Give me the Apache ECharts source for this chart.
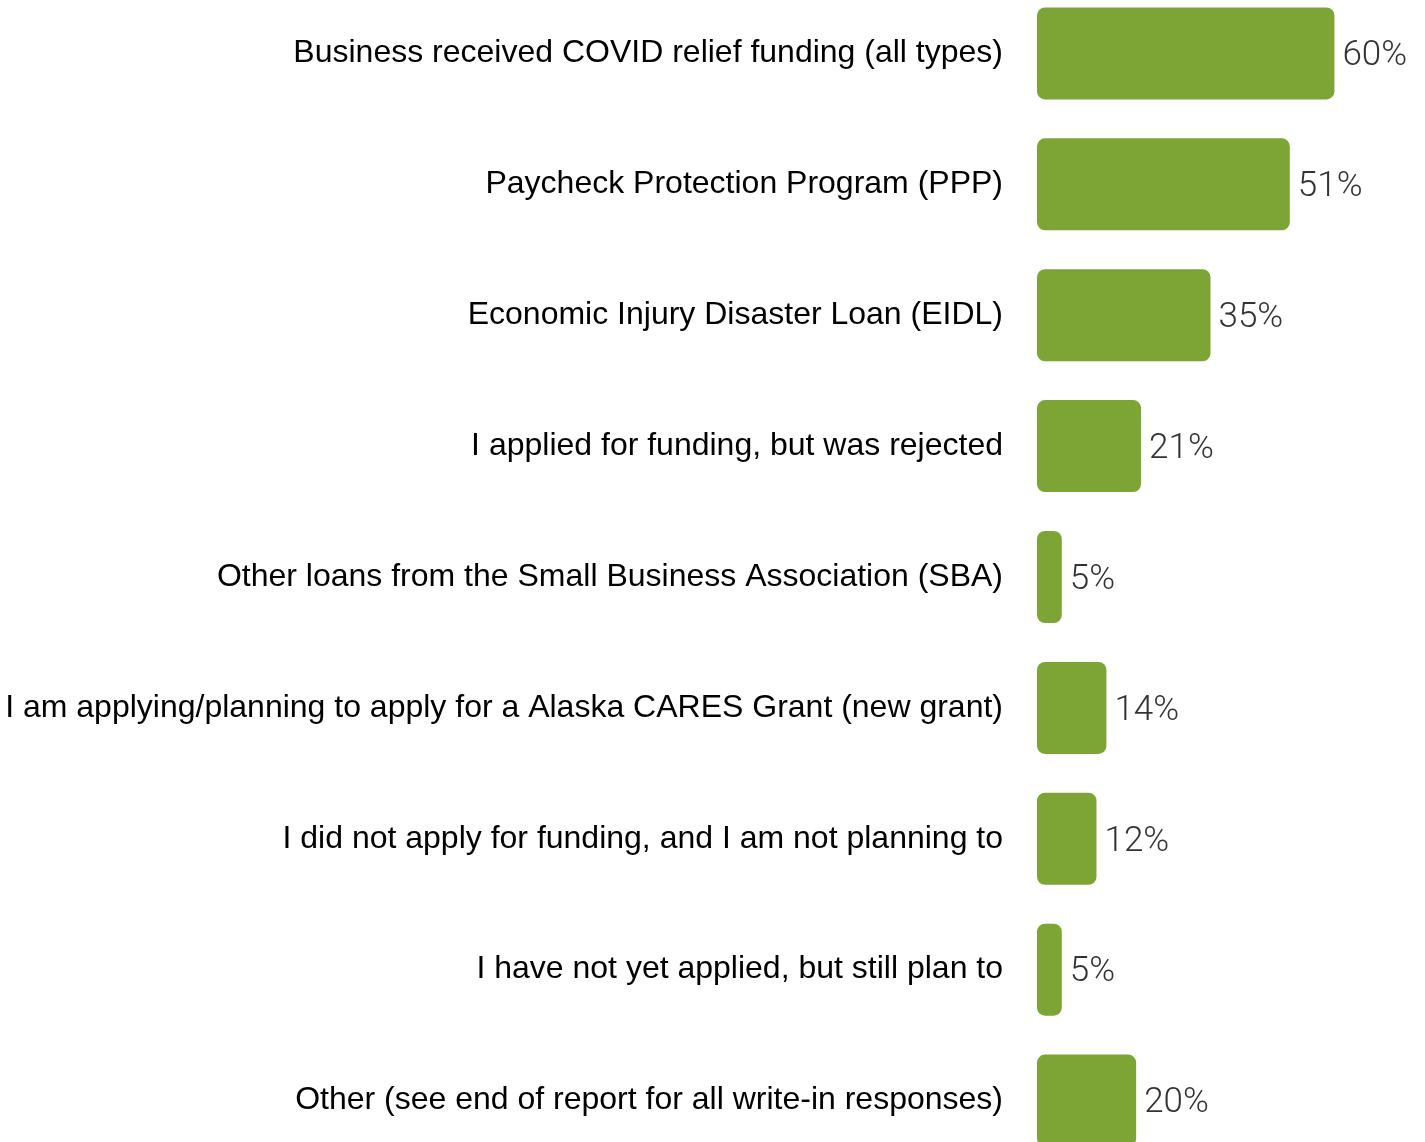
<!DOCTYPE html>
<html>
<head>
<meta charset="utf-8">
<script src="https://cdn.jsdelivr.net/npm/echarts@6/dist/echarts.min.js"></script>
<style>
  html, body { margin: 0; padding: 0; background: #fff; }
  #main { width: 1425px; height: 1142px; }
</style>
</head>
<body>
<div id="main"></div>
<script>
// categories, top to bottom
const categories = [
  'Business received COVID relief funding (all types)',
  'Paycheck Protection Program (PPP)',
  'Economic Injury Disaster Loan (EIDL)',
  'I applied for funding, but was rejected',
  'Other loans from the Small Business Association (SBA)',
  'I am applying/planning to apply for a Alaska CARES Grant (new grant)',
  'I did not apply for funding, and I am not planning to',
  'I have not yet applied, but still plan to',
  'Other (see end of report for all write-in responses)'
];
const percents = [60, 51, 35, 21, 5, 14, 12, 5, 20];

let chart = echarts.init(document.getElementById('main'));
let option = {
  animation: false,
  grid: {
    left: 1037,
    right: 41,
    top: -12,
    bottom: -24,
    outerBoundsMode: 'none'   // let the last bar run off the bottom edge
  },
  xAxis: {
    type: 'value',
    min: 0,
    max: 70,
    show: false
  },
  yAxis: {
    type: 'category',
    inverse: true,
    data: categories,
    axisLine: { show: false },
    axisTick: { show: false },
    axisLabel: {
      margin: 34,
      fontFamily: 'Liberation Sans, Arial, sans-serif',
      fontSize: 32,
      color: '#000'
    }
  },
  series: [
    {
      type: 'bar',
      data: percents,
      barWidth: 92,
      itemStyle: {
        color: '#7ca535',
        borderRadius: 8
      },
      label: {
        show: true,
        position: 'right',
        distance: 8,
        offset: [0, 3],
        formatter: '{c}%',
        fontFamily: 'Roboto, Lato, sans-serif',
        fontWeight: 300,
        fontSize: 35,
        color: '#333'
      }
    }
  ]
};
chart.setOption(option);
</script>
</body>
</html>
